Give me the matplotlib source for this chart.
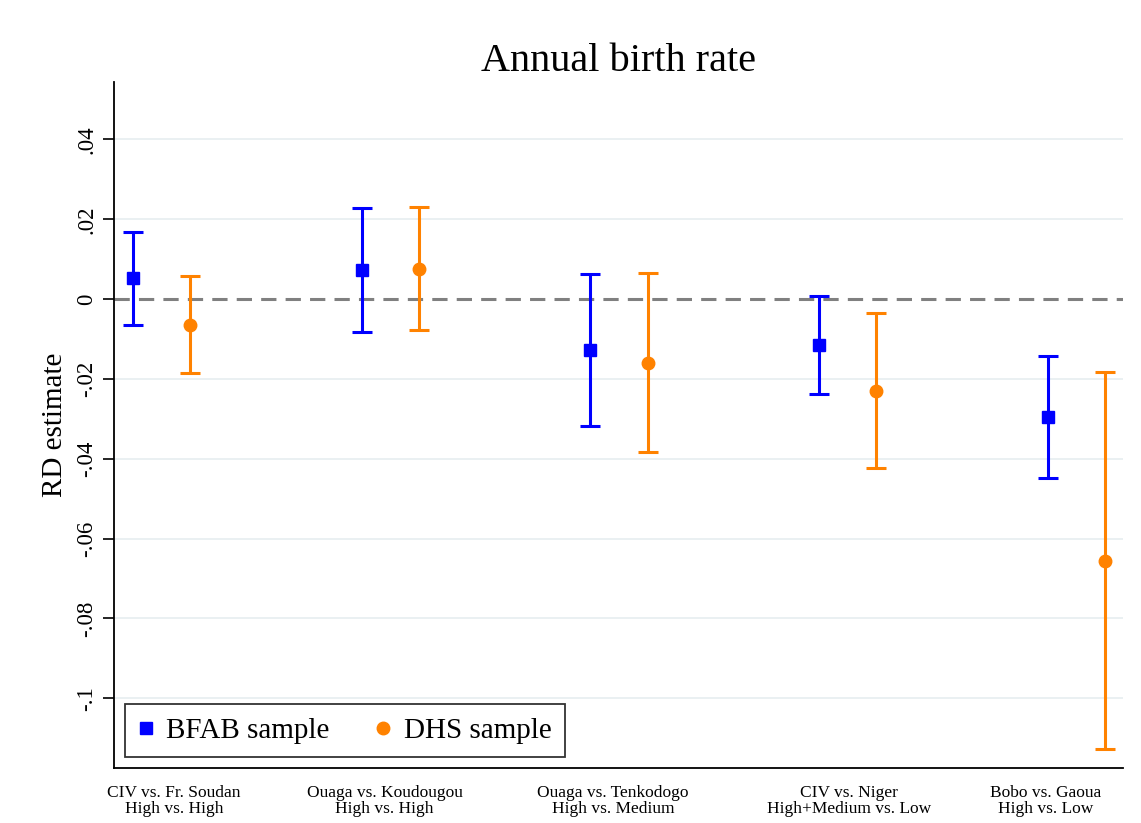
import numpy as np
import matplotlib.pyplot as plt
from matplotlib.lines import Line2D

# comparisons (x tick labels)
comparisons = ["CIV vs. Fr. Soudan\nHigh vs. High",
               "Ouaga vs. Koudougou\nHigh vs. High",
               "Ouaga vs. Tenkodogo\nHigh vs. Medium",
               "CIV vs. Niger\nHigh+Medium vs. Low",
               "Bobo vs. Gaoua\nHigh vs. Low"]

# BFAB sample: estimate, lower CI, upper CI
bfab_est = [0.0053, 0.0073, -0.0128, -0.0115, -0.0296]
bfab_lo = [-0.0065, -0.0083, -0.0318, -0.0238, -0.0449]
bfab_hi = [0.0168, 0.0228, 0.0063, 0.0008, -0.0143]

# DHS sample
dhs_est = [-0.0065, 0.0075, -0.0160, -0.0230, -0.0657]
dhs_lo = [-0.0185, -0.0078, -0.0383, -0.0424, -0.1128]
dhs_hi = [0.0058, 0.0230, 0.0065, -0.0035, -0.0183]

yticks = [0.04, 0.02, 0, -0.02, -0.04, -0.06, -0.08, -0.1]
ytick_labels = [".04", ".02", "0", "-.02", "-.04", "-.06", "-.08", "-.1"]

plt.rcParams['font.family'] = ['Liberation Serif', 'DejaVu Serif']

blue = "#0000ff"
orange = "#ff8200"

fig = plt.figure(figsize=(11.41, 8.23), dpi=100)
ax = fig.add_axes([0.0999, 0.0668, 0.8843, 0.8336])

x = np.arange(len(comparisons))
xb = x
xd = x + 0.25

b = np.array(bfab_est)
d = np.array(dhs_est)
berr = [b - np.array(bfab_lo), np.array(bfab_hi) - b]
derr = [d - np.array(dhs_lo), np.array(dhs_hi) - d]

# grid lines and zero line
for t in yticks:
    if t != 0:
        ax.axhline(t, color="#e8eff1", linewidth=1.3, zorder=0)
ax.axhline(0, color="#808080", linewidth=2.2, linestyle=(0, (5, 3)), zorder=1)

ax.errorbar(xb, b, yerr=berr, fmt="s", color=blue, ms=9, elinewidth=2.2,
            capsize=7, capthick=2.2, label="BFAB sample", zorder=3)
ax.errorbar(xd, d, yerr=derr, fmt="o", color=orange, ms=9, elinewidth=2.2,
            capsize=7, capthick=2.2, label="DHS sample", zorder=3)

ax.set_xlim(-0.083, 4.329)
ax.set_ylim(-0.1175, 0.0544)

ax.set_yticks(yticks)
ax.set_yticklabels(ytick_labels, rotation=90, va="center", fontsize=16.5)
ax.tick_params(axis="y", length=8, width=1.2, pad=4)

label_pos = [0.18, 1.10, 2.10, 3.13, 3.99]
ax.set_xticks(label_pos)
ax.set_xticklabels(comparisons, fontsize=12.5, linespacing=1.05)
ax.tick_params(axis="x", length=0, pad=12)

ax.spines["top"].set_visible(False)
ax.spines["right"].set_visible(False)
ax.spines["left"].set_linewidth(1.3)
ax.spines["bottom"].set_linewidth(1.3)

ax.set_ylabel("RD estimate", fontsize=21, labelpad=6)
ax.set_title("Annual birth rate", fontsize=29, pad=8)

# legend shows markers only
labels = ["BFAB sample", "DHS sample"]
handles = [Line2D([], [], marker="s", color=blue, linestyle="none", ms=9),
           Line2D([], [], marker="o", color=orange, linestyle="none", ms=9)]
leg = ax.legend(handles, labels, loc="lower left", ncol=2, fontsize=21,
                frameon=True, fancybox=False, edgecolor="black",
                handletextpad=0.45, columnspacing=1.6, borderpad=0.45,
                borderaxespad=0, handlelength=0.5,
                bbox_to_anchor=(0.011, 0.016))
leg.get_frame().set_linewidth(1.3)

fig.savefig("out.png", dpi=100)
